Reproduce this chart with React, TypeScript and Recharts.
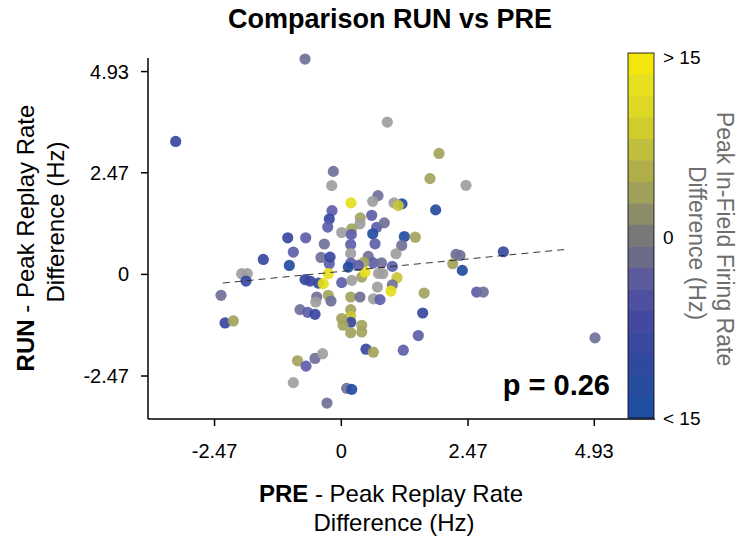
import { ScatterChart, Scatter, XAxis, YAxis } from 'recharts';

// PRE - peak replay rate difference (Hz), one entry per cell
const preDiff = [
  -0.707, -3.227, 0.896, 1.904, 1.728, 2.43, 1.839, 1.183, 1.027, 1.111,
  0.715, 0.612, 0.592, 0.69, 0.838, 0.612, 1.228, 1.442, -0.156, -0.187,
  0.189, -0.181, -0.234, -0.265, 0.37, 0.364, 0.203, 0.008, 0.195, -1.044,
  -0.694, -0.331, -0.935, -1.52, -1.013, -0.396, -0.234, -0.22, 0.183, 0.183,
  0.183, 0.657, 0.526, 0.624, 0.442, -1.941, -1.832, -1.857, -2.344, -0.707,
  -0.61, -0.448, -0.351, -0.253, 0.008, 0.203, 0.398, 0.462, 0.136, 0.331,
  -0.479, -0.253, -0.201, -0.499, 0.183, 0.364, 0.627, 0.183, 0.183, 0.183,
  0.008, 0.033, 0.183, 0.398, 0.398, -0.805, -0.655, -0.512, -2.266, -2.104,
  0.481, 0.624, -0.853, -0.688, -0.512, -0.366, -0.935, 0.105, 0.203, -0.279,
  1.177, 1.066, 3.157, 2.235, 2.313, 2.171, 2.358, 0.783, 0.994, 0.807,
  0.725, 1.085, 0.994, 0.968, 0.705, 0.754, 1.615, 2.638, 2.767, 1.586,
  1.5, 1.208, 4.944,
];

// RUN - peak replay rate difference (Hz)
const runDiff = [
  5.235, 3.231, 3.701, 2.94, 2.327, 2.164, 1.568, 1.714, 1.738, 1.672,
  1.915, 1.777, 1.437, 1.146, 1.253, 0.986, 0.921, 0.904, 2.504, 2.157,
  1.738, 1.551, 1.345, 1.151, 1.374, 1.229, 1.108, 1.018, 0.97, 0.89,
  0.89, 0.739, 0.541, 0.364, 0.218, 0.412, 0.259, 0.419, 0.727, 0.509,
  0.274, 0.744, 0.436, 0.279, 0.298, 0.017, 0.017, -0.162, -0.509, -0.128,
  -0.162, -0.211, -0.225, 0.017, -0.201, -0.145, -0.065, 0.056, 0.177, 0.218,
  -0.55, -0.509, -0.647, -0.671, -0.55, -0.55, -0.594, -0.856, -1.018, -1.163,
  -1.074, -1.236, -1.418, -1.236, -1.399, -0.856, -0.921, -0.97, -1.18, -1.132,
  -1.818, -1.891, -2.101, -2.23, -2.043, -1.927, -2.63, -2.77, -2.795, -3.127,
  0.703, 0.502, 0.55, 0.485, 0.461, 0.259, 0.097, 0.279, 0.194, 0.017,
  0.024, -0.08, -0.254, -0.405, -0.308, -0.613, -0.453, -0.429, -0.429, -0.938,
  -1.486, -1.842, -1.544,
];

// peak in-field firing rate difference (Hz), clipped to +/-15
const fieldDiff = [
  -3, -10, 0, 6, 6, 0, -14, -14, 0, 10,
  -3, 0, -6, -6, -3, -14, -14, 6, -3, 0,
  15, -6, -10, -6, 6, 0, 6, 0, -6, -10,
  -6, -3, -6, -10, -14, -3, -6, -10, -6, 0,
  -6, -6, -3, -6, 6, 0, 0, -10, -3, -10,
  -10, -10, 15, 15, -6, 0, 6, 15, -14, -6,
  -3, 6, -3, 0, 6, -3, 0, 6, 10, -10,
  6, 6, 6, 6, 6, -3, -6, -10, -10, 6,
  -10, 6, 6, -6, -3, 0, 0, -3, -14, -3,
  -3, 0, -10, -3, -3, 6, -14, -3, -6, 0,
  0, 10, -3, 15, 0, -6, 6, -6, -3, -10,
  -6, -6, -3,
];

// dashed regression line end points
const fitX = [-2.31, 4.39];
const fitY = [-0.21, 0.61];

const xTicks = [-2.47, 0, 2.47, 4.93];
const yTicks = [-2.47, 0, 2.47, 4.93];

// colour bar, top (> 15) to bottom (< 15)
const barColors = [
  '#f2e60c', '#e6e020', '#dcd824', '#d0cc2c', '#c0be3e', '#b0ae4a',
  '#a0a058', '#8c8c68', '#787878', '#6c6c88', '#5c5c9c', '#5050a0',
  '#44489e', '#3a48a0', '#3048a0', '#284ca0', '#204ea0',
];

const pointStops: [number, number[]][] = [
  [-15, [31, 78, 158]],
  [-10, [58, 72, 160]],
  [-6, [94, 94, 170]],
  [-3, [112, 112, 154]],
  [0, [158, 158, 158]],
  [6, [163, 163, 94]],
  [10, [201, 197, 54]],
  [15, [230, 223, 28]],
];

function pointColor(v: number) {
  const c = Math.max(-15, Math.min(15, v));
  for (let i = 0; i < pointStops.length - 1; i++) {
    const [a, ca] = pointStops[i];
    const [b, cb] = pointStops[i + 1];
    if (c >= a && c <= b) {
      const t = (c - a) / (b - a);
      const rgb = ca.map((ch, k) => Math.round(ch + (cb[k] - ch) * t));
      return `rgb(${rgb.join(',')})`;
    }
  }
  return '#9e9e9e';
}

const points = preDiff.map((x, i) => ({ x, y: runDiff[i], c: fieldDiff[i] }));
const fitLine = fitX.map((x, i) => ({ x, y: fitY[i] }));

const FONT = '"Liberation Sans", Arial, Helvetica, sans-serif';

const Dot = (props: any) => {
  const { cx, cy, payload } = props;
  if (cx == null || cy == null) return <g />;
  return <circle cx={cx} cy={cy} r={5.6} fill={pointColor(payload.c)} fillOpacity={0.92} />;
};

const fmt = (v: number) => (v === 0 ? '0' : v.toFixed(2));

export default function App() {
  const barTop = 53;
  const barBottom = 418;
  const barH = (barBottom - barTop) / barColors.length;

  return (
    <div style={{ position: 'absolute', left: 0, top: 0, width: 740, height: 540, background: '#fff', fontFamily: FONT }}>
      <ScatterChart width={740} height={540} margin={{ top: 58, right: 85, bottom: 0, left: 0 }}>
        <XAxis
          type="number"
          dataKey="x"
          domain={[-3.767, 6.113]}
          ticks={xTicks}
          tickFormatter={fmt}
          height={121}
          tickSize={7}
          tickMargin={18}
          axisLine={{ stroke: '#000', strokeWidth: 1.5 }}
          tickLine={{ stroke: '#000', strokeWidth: 1.5 }}
          tick={{ fontSize: 20, fill: '#000', fontFamily: FONT }}
        />
        <YAxis
          type="number"
          dataKey="y"
          domain={[-3.515, 5.26]}
          ticks={yTicks}
          tickFormatter={fmt}
          width={148}
          tickSize={7}
          tickMargin={12}
          axisLine={{ stroke: '#000', strokeWidth: 1.5 }}
          tickLine={{ stroke: '#000', strokeWidth: 1.5 }}
          tick={{ fontSize: 20, fill: '#000', fontFamily: FONT }}
        />
        <Scatter data={points} shape={Dot} isAnimationActive={false} />
        <Scatter
          data={fitLine}
          line={{ stroke: '#222', strokeWidth: 0.9, strokeDasharray: '7 5' }}
          shape={() => <g />}
          isAnimationActive={false}
        />
      </ScatterChart>

      <svg
        width={740}
        height={540}
        style={{ position: 'absolute', left: 0, top: 0, pointerEvents: 'none' }}
        fontFamily={FONT}
      >
        <text x={390} y={28} textAnchor="middle" fontSize={27} fontWeight="bold" fill="#000">
          Comparison RUN vs PRE
        </text>

        <text x={391} y={502} textAnchor="middle" fontSize={24} fill="#000">
          <tspan fontWeight="bold">PRE</tspan> - Peak Replay Rate
        </text>
        <text x={394} y={531} textAnchor="middle" fontSize={24} fill="#000">
          Difference (Hz)
        </text>

        <text x={25} y={238} textAnchor="middle" dominantBaseline="central" fontSize={24} fill="#000" transform="rotate(-90 25 238)">
          <tspan fontWeight="bold">RUN</tspan> - Peak Replay Rate
        </text>
        <text x={55} y={222} textAnchor="middle" dominantBaseline="central" fontSize={24} fill="#000" transform="rotate(-90 55 222)">
          Difference (Hz)
        </text>

        <text x={610} y={395} textAnchor="end" fontSize={29} fontWeight="bold" fill="#000">
          p = 0.26
        </text>

        {barColors.map((c, i) => (
          <rect key={i} x={628} y={barTop + i * barH} width={26} height={barH + 0.5} fill={c} />
        ))}
        <rect x={628} y={barTop} width={26} height={barBottom - barTop} fill="none" stroke="#000" strokeWidth={0.8} />
        <text x={663} y={57} dominantBaseline="central" fontSize={19} fill="#000">{'> 15'}</text>
        <text x={663} y={237} dominantBaseline="central" fontSize={19} fill="#000">0</text>
        <text x={663} y={418} dominantBaseline="central" fontSize={19} fill="#000">{'< 15'}</text>

        <text x={725} y={239} textAnchor="middle" dominantBaseline="central" fontSize={23} fill="#6e6e6e" transform="rotate(90 725 239)">
          Peak In-Field Firing Rate
        </text>
        <text x={697} y={243} textAnchor="middle" dominantBaseline="central" fontSize={23} fill="#6e6e6e" transform="rotate(90 697 243)">
          Difference (Hz)
        </text>
      </svg>
    </div>
  );
}
